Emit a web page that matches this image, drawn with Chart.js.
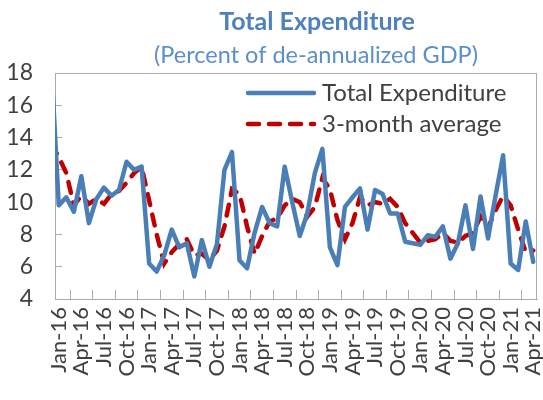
<!DOCTYPE html>
<html>
<head>
<meta charset="utf-8">
<title>Total Expenditure</title>
<script src="https://cdn.jsdelivr.net/npm/chart.js@4.4.1/dist/chart.umd.min.js"></script>
<style>
  html, body { margin: 0; padding: 0; background: #fff; }
</style>
</head>
<body>
<canvas id="expChart" width="543" height="400"></canvas>
<script>
// Monthly data, Dec-15 is only there so the line runs in from the left edge (axis starts at Jan-16)
const months = [
  'Dec-15',
  'Jan-16', 'Feb-16', 'Mar-16', 'Apr-16', 'May-16', 'Jun-16', 'Jul-16', 'Aug-16', 'Sep-16', 'Oct-16', 'Nov-16', 'Dec-16',
  'Jan-17', 'Feb-17', 'Mar-17', 'Apr-17', 'May-17', 'Jun-17', 'Jul-17', 'Aug-17', 'Sep-17', 'Oct-17', 'Nov-17', 'Dec-17',
  'Jan-18', 'Feb-18', 'Mar-18', 'Apr-18', 'May-18', 'Jun-18', 'Jul-18', 'Aug-18', 'Sep-18', 'Oct-18', 'Nov-18', 'Dec-18',
  'Jan-19', 'Feb-19', 'Mar-19', 'Apr-19', 'May-19', 'Jun-19', 'Jul-19', 'Aug-19', 'Sep-19', 'Oct-19', 'Nov-19', 'Dec-19',
  'Jan-20', 'Feb-20', 'Mar-20', 'Apr-20', 'May-20', 'Jun-20', 'Jul-20', 'Aug-20', 'Sep-20', 'Oct-20', 'Nov-20', 'Dec-20',
  'Jan-21', 'Feb-21', 'Mar-21', 'Apr-21'
];

const totalExp = [
  18.6,
  9.8, 10.3, 9.4, 11.6, 8.7, 10.2, 10.9, 10.4, 10.75, 12.5, 12.0, 12.2,
  6.2, 5.7, 6.7, 8.3, 7.2, 7.45, 5.4, 7.65, 6.0, 7.4, 12.0, 13.1,
  6.4, 5.9, 8.1, 9.7, 8.7, 8.5, 12.2, 10.0, 7.9, 9.3, 11.8, 13.3,
  7.2, 6.1, 9.7, 10.3, 10.85, 8.3, 10.75, 10.5, 9.3, 9.3, 7.55, 7.45,
  7.35, 7.95, 7.85, 8.5, 6.5, 7.45, 9.8, 7.1, 10.35, 7.75, 10.4, 12.9,
  6.2, 5.8, 8.8, 6.3
];

const avg3m = [
  13.6,
  12.8, 11.8, 9.8, 10.4, 9.9, 10.2, 9.9, 10.5, 10.7, 11.2, 11.8, 12.2,
  10.1, 8.0, 6.2, 6.9, 7.4, 7.7, 6.7, 6.8, 6.4, 7.0, 8.5, 10.8,
  10.5, 8.5, 6.8, 7.9, 8.8, 9.0, 9.8, 10.2, 10.0, 9.1, 9.7, 11.5,
  10.8, 8.9, 7.7, 8.7, 10.3, 9.8, 10.0, 9.9, 10.2, 9.7, 8.7, 8.1,
  7.5, 7.6, 7.7, 8.1, 7.6, 7.5, 7.9, 8.1, 9.1, 8.4, 9.5, 10.4,
  9.8, 8.3, 6.9, 7.0
];

const yTicks = [4, 6, 8, 10, 12, 14, 16, 18];
const labelMonths = ['Jan', 'Apr', 'Jul', 'Oct'];   // x labels every quarter

const chartTitle = 'Total Expenditure';
const chartSubtitle = '(Percent of de-annualized GDP)';

const FONT = 'Lato, "Open Sans", sans-serif';
const AXIS_GRAY = '#ABABAB';
const TEXT_DARK = '#404040';

function isQuarterTick(value) {
  const lab = months[value];
  return lab !== undefined && labelMonths.includes(lab.slice(0, 3));
}

// plot frame, titles and in-plot legend
const chartDecor = {
  id: 'chartDecor',
  beforeDatasetsDraw(chart) {
    const { ctx, chartArea: a } = chart;
    ctx.save();
    ctx.strokeStyle = AXIS_GRAY;
    ctx.lineWidth = 1;
    ctx.strokeRect(Math.round(a.left) + 0.5, Math.round(a.top) + 0.5,
      Math.round(a.right - a.left) - 1, Math.round(a.bottom - a.top));
    ctx.restore();
  },
  afterDraw(chart) {
    const ctx = chart.ctx;
    ctx.save();
    ctx.textAlign = 'center';
    ctx.textBaseline = 'middle';
    ctx.fillStyle = '#4F81BD';
    ctx.font = 'bold 25px ' + FONT;
    ctx.fillText(chartTitle, 317, 22);
    ctx.fillStyle = '#5B8FCB';
    ctx.font = '23.5px ' + FONT;
    ctx.fillText(chartSubtitle, 316, 55);

    chart.data.datasets.forEach((ds, i) => {
      const y = 93 + i * 31;
      ctx.beginPath();
      ctx.strokeStyle = ds.borderColor;
      ctx.lineWidth = ds.borderWidth;
      ctx.lineCap = ds.borderCapStyle || 'butt';
      ctx.setLineDash(ds.borderDash || []);
      ctx.moveTo(248, y);
      ctx.lineTo(314, y);
      ctx.stroke();
      ctx.setLineDash([]);
      ctx.fillStyle = TEXT_DARK;
      ctx.font = '24px ' + FONT;
      ctx.textAlign = 'left';
      ctx.fillText(ds.label, 322, y);
    });
    ctx.restore();
  }
};

const ctx = document.getElementById('expChart').getContext('2d');
new Chart(ctx, {
  type: 'line',
  data: {
    labels: months,
    datasets: [
      {
        label: 'Total Expenditure',
        data: totalExp,
        borderColor: '#4A7EB6',
        borderWidth: 4.5,
        borderCapStyle: 'round',
        borderJoinStyle: 'round',
        pointRadius: 0,
        tension: 0
      },
      {
        label: '3-month average',
        data: avg3m,
        borderColor: '#C00000',
        borderWidth: 4.5,
        borderDash: [11, 10],
        borderCapStyle: 'round',
        pointRadius: 0,
        tension: 0
      }
    ]
  },
  options: {
    responsive: false,
    animation: false,
    layout: { padding: { top: 73, right: 6, bottom: 0, left: 0 } },
    plugins: {
      legend: { display: false },
      title: { display: false },
      tooltip: { enabled: false }
    },
    scales: {
      x: {
        type: 'category',
        min: 'Jan-16',
        offset: true,
        grid: {
          offset: true,
          drawOnChartArea: false,
          tickLength: -9,
          tickColor: c => (c.tick && isQuarterTick(c.tick.value)) ? AXIS_GRAY : 'rgba(0,0,0,0)'
        },
        border: { color: AXIS_GRAY, width: 1 },
        ticks: {
          autoSkip: false,
          minRotation: 90,
          maxRotation: 90,
          padding: 17,
          color: TEXT_DARK,
          font: { family: FONT, size: 22 },
          callback: function(value) {
            return isQuarterTick(value) ? this.getLabelForValue(value) : null;
          }
        },
        afterFit(scale) {
          scale.height = 101;
          scale.paddingLeft = 0;
          scale.paddingRight = 0;
        }
      },
      y: {
        min: 4,
        max: 18,
        grid: { drawOnChartArea: false, tickLength: -7, tickColor: AXIS_GRAY },
        border: { color: AXIS_GRAY, width: 1 },
        ticks: {
          padding: 29,
          color: TEXT_DARK,
          font: { family: FONT, size: 23 }
        },
        afterBuildTicks(scale) {
          scale.ticks = yTicks.map(v => ({ value: v }));
        },
        afterFit(scale) {
          scale.width = 55;
        }
      }
    }
  },
  plugins: [chartDecor]
});
</script>
</body>
</html>
